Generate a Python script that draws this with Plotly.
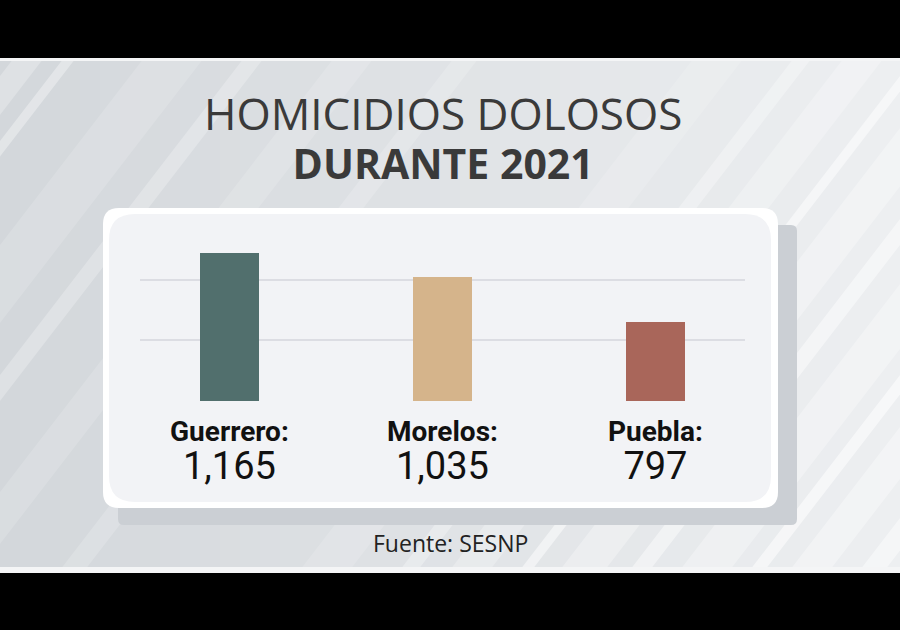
import plotly.graph_objects as go

# ---- data ----
states = ["Guerrero", "Morelos", "Puebla"]
homicides = [1165, 1035, 797]
bar_colors = ["#516f6d", "#d5b48b", "#a9665a"]
title_line1 = "HOMICIDIOS DOLOSOS"
title_line2 = "DURANTE 2021"
source_text = "Fuente: SESNP"

W, H = 900, 630


def px(x):
    return x / W


def py(y):
    return 1 - y / H


def rrect(x0, y0, x1, y1, r):
    """rounded rectangle path in paper coords from pixel coords"""
    rx, ry = r / W, r / H
    X0, X1 = px(x0), px(x1)
    Y0, Y1 = py(y0), py(y1)
    return (f"M{X0+rx},{Y0} L{X1-rx},{Y0} Q{X1},{Y0} {X1},{Y0-ry} "
            f"L{X1},{Y1+ry} Q{X1},{Y1} {X1-rx},{Y1} L{X0+rx},{Y1} "
            f"Q{X0},{Y1} {X0},{Y1+ry} L{X0},{Y0-ry} Q{X0},{Y0} {X0+rx},{Y0} Z")


shapes = []

# background gradient (left darker -> right lighter)
n = 45
c0 = (211, 215, 219)
c1 = (237, 239, 241)
for i in range(n):
    t = i / (n - 1)
    c = tuple(int(round(c0[k] + (c1[k] - c0[k]) * t)) for k in range(3))
    shapes.append(dict(type="rect", xref="paper", yref="paper",
                       x0=i / n, x1=(i + 1) / n + 0.002, y0=0, y1=1,
                       fillcolor=f"rgb{c}", line_width=0, layer="below"))

# diagonal light stripes
stripes = [(-380, 30, 0.25), (-330, 12, 0.35), (-250, 60, 0.15), (-150, 20, 0.25),
           (-60, 40, 0.15), (60, 25, 0.18), (300, 50, 0.15), (400, 18, 0.3),
           (450, 40, 0.25), (520, 12, 0.5), (560, 45, 0.3), (630, 20, 0.45),
           (680, 50, 0.3), (750, 15, 0.55), (790, 40, 0.35), (860, 25, 0.45)]
rise = 510 / 1.3
for x0, w, op in stripes:
    path = (f"M{px(x0)},{py(570)} L{px(x0+w)},{py(570)} "
            f"L{px(x0+w+rise)},{py(60)} L{px(x0+rise)},{py(60)} Z")
    shapes.append(dict(type="path", xref="paper", yref="paper", path=path,
                       fillcolor=f"rgba(255,255,255,{op})", line_width=0, layer="below"))

# letterbox bars
shapes.append(dict(type="rect", xref="paper", yref="paper", x0=0, x1=1,
                   y0=py(61), y1=1, fillcolor="#f4f5f6", line_width=0, layer="below"))
shapes.append(dict(type="rect", xref="paper", yref="paper", x0=0, x1=1,
                   y0=py(58), y1=1, fillcolor="#000000", line_width=0, layer="below"))
shapes.append(dict(type="rect", xref="paper", yref="paper", x0=0, x1=1,
                   y0=0, y1=py(567), fillcolor="#f4f5f6", line_width=0, layer="below"))
shapes.append(dict(type="rect", xref="paper", yref="paper", x0=0, x1=1,
                   y0=0, y1=py(573), fillcolor="#000000", line_width=0, layer="below"))

# panel shadow
shapes.append(dict(type="path", xref="paper", yref="paper", path=rrect(118, 225, 797, 525, 6),
                   fillcolor="#cbcfd4", line_width=0, layer="below"))
# panel
shapes.append(dict(type="path", xref="paper", yref="paper", path=rrect(103, 208, 778, 508, 16),
                   fillcolor="#ffffff", line_width=0, layer="below"))
shapes.append(dict(type="path", xref="paper", yref="paper", path=rrect(109, 214, 771, 502, 26),
                   fillcolor="#f2f3f6", line_width=0, layer="below"))

fig = go.Figure(go.Bar(
    x=states, y=homicides, marker_color=bar_colors, marker_line_width=0,
    width=0.28, hoverinfo="x+y",
))

title_text = (f"<span style='font-size:44px'>{title_line1}</span><br>"
              f"<span style='font-size:41px'><b>{title_line2}</b></span>")
annotations = [
    dict(text=title_text, x=px(443), y=py(137), xref="paper", yref="paper",
         showarrow=False, xanchor="center", yanchor="middle",
         font=dict(family="Open Sans", size=38, color="#3a3a3a")),
    dict(text=source_text, x=px(450), y=py(543), xref="paper", yref="paper",
         showarrow=False, xanchor="center", yanchor="middle",
         font=dict(family="Open Sans", size=23, color="#222222")),
]
for s, v in zip(states, homicides):
    annotations.append(dict(
        text=(f"<span style='font-size:28px'><b>{s}:</b></span><br>"
              f"<span style='font-size:38px'>{v:,}</span>"),
        x=s, xref="x", y=py(451), yref="paper",
        showarrow=False, xanchor="center", yanchor="middle",
        font=dict(family="Roboto", size=29, color="#111111")))

fig.update_layout(
    width=W, height=H,
    margin=dict(l=0, r=0, t=0, b=0),
    paper_bgcolor="#dcdfe2",
    plot_bgcolor="rgba(0,0,0,0)",
    showlegend=False,
    shapes=shapes,
    annotations=annotations,
    xaxis=dict(domain=[px(140), px(745)], range=[-0.42, 2.42], showticklabels=False,
               showgrid=False, zeroline=False, showline=False, fixedrange=True),
    yaxis=dict(domain=[py(401), py(230)], range=[378, 1284.5], tick0=380, dtick=320,
               showticklabels=False, showgrid=True, gridcolor="#dcdde3", gridwidth=1.5,
               zeroline=False, showline=False, fixedrange=True),
    bargap=0,
)

fig.write_html("out.html", config={"displayModeBar": False},
               post_script="document.body.style.margin='0';document.body.style.overflow='hidden';")
